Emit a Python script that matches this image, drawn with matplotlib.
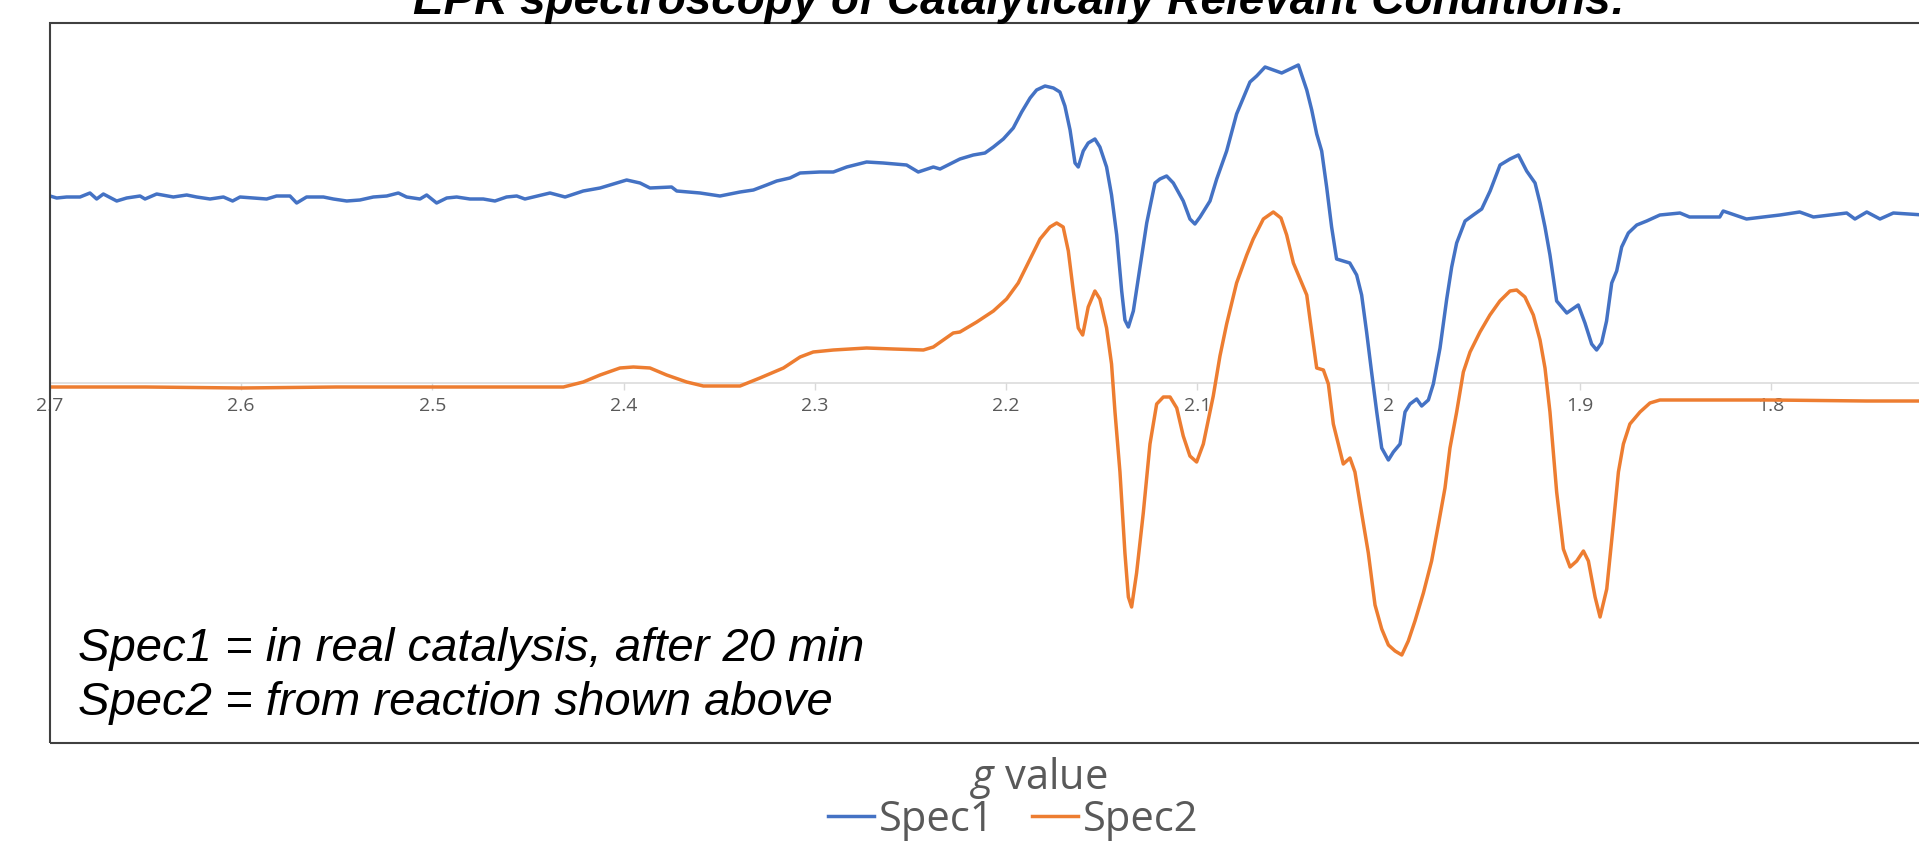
import numpy as np
import matplotlib
matplotlib.use("Agg")
import matplotlib.pyplot as plt
from matplotlib.patches import Rectangle

# g values (x) and signal intensities (arbitrary units)
spec1_g = [2.7000, 2.6965, 2.6913, 2.6843, 2.6791, 2.6756, 2.6721, 2.6651, 2.6599, 2.6529,
           2.6503, 2.6442, 2.6355, 2.6285, 2.6233, 2.6163, 2.6093, 2.6045, 2.6006, 2.5937,
           2.5867, 2.5815, 2.5745, 2.5710, 2.5658, 2.5570, 2.5518, 2.5448, 2.5379, 2.5309,
           2.5239, 2.5178, 2.5135, 2.5065, 2.5030, 2.4978, 2.4925, 2.4873, 2.4804, 2.4734,
           2.4673, 2.4612, 2.4559, 2.4516, 2.4385, 2.4306, 2.4211, 2.4123, 2.4071, 2.3984,
           2.3914, 2.3862, 2.3749, 2.3722, 2.3600, 2.3496, 2.3391, 2.3321, 2.3252, 2.3199,
           2.3130, 2.3077, 2.2973, 2.2903, 2.2833, 2.2729, 2.2642, 2.2520, 2.2459, 2.2380,
           2.2345, 2.2241, 2.2171, 2.2110, 2.2066, 2.2014, 2.1962, 2.1918, 2.1874, 2.1840,
           2.1796, 2.1752, 2.1718, 2.1692, 2.1665, 2.1639, 2.1622, 2.1596, 2.1570, 2.1535,
           2.1509, 2.1474, 2.1448, 2.1421, 2.1395, 2.1378, 2.1360, 2.1334, 2.1299, 2.1264,
           2.1221, 2.1195, 2.1160, 2.1125, 2.1073, 2.1038, 2.1012, 2.0985, 2.0933, 2.0898,
           2.0846, 2.0794, 2.0759, 2.0724, 2.0689, 2.0645, 2.0602, 2.0558, 2.0514, 2.0471,
           2.0427, 2.0401, 2.0375, 2.0349, 2.0323, 2.0297, 2.0271, 2.0236, 2.0202, 2.0166,
           2.0140, 2.0114, 2.0088, 2.0061, 2.0035, 2.0000, 1.9974, 1.9939, 1.9913, 1.9887,
           1.9852, 1.9826, 1.9791, 1.9765, 1.9730, 1.9695, 1.9669, 1.9643, 1.9599, 1.9556,
           1.9512, 1.9468, 1.9416, 1.9364, 1.9320, 1.9277, 1.9233, 1.9207, 1.9181, 1.9155,
           1.9120, 1.9067, 1.9007, 1.8972, 1.8937, 1.8911, 1.8885, 1.8859, 1.8832, 1.8806,
           1.8780, 1.8745, 1.8701, 1.8649, 1.8580, 1.8475, 1.8425, 1.8267, 1.8249, 1.8127,
           1.7952, 1.7849, 1.7777, 1.7603, 1.7560, 1.7498, 1.7429, 1.7359, 1.7200]
spec1_val = [187, 185, 186, 186, 190, 184, 189, 182, 185, 187,
             184, 189, 186, 188, 186, 184, 186, 182, 186, 185,
             184, 187, 187, 180, 186, 186, 184, 182, 183, 186,
             187, 190, 186, 184, 188, 180, 185, 186, 184, 184,
             182, 186, 187, 184, 190, 186, 192, 195, 198, 203,
             200, 195, 196, 192, 190, 187, 191, 193, 198, 202,
             205, 210, 211, 211, 216, 221, 220, 218, 211, 216,
             214, 224, 228, 230, 236, 244, 255, 271, 285, 293,
             297, 295, 291, 277, 253, 220, 216, 232, 240, 244,
             236, 216, 188, 148, 92, 63, 56, 72, 116, 160,
             200, 204, 207, 200, 182, 164, 159, 166, 182, 204,
             232, 269, 285, 301, 307, 316, 313, 310, 314, 318,
             293, 273, 249, 232, 196, 156, 124, 122, 120, 108,
             88, 51, 11, -29, -65, -77, -69, -61, -29, -21,
             -16, -23, -17, -1, 35, 84, 116, 140, 162, 168,
             174, 192, 218, 224, 228, 212, 200, 180, 156, 128,
             82, 70, 78, 60, 39, 33, 40, 62, 100, 112,
             136, 150, 158, 162, 168, 170, 166, 166, 172, 164,
             168, 171, 166, 170, 164, 171, 164, 170, 168]

spec2_g = [2.7000, 2.6500, 2.6000, 2.5500, 2.5000, 2.4500, 2.4315, 2.4211, 2.4123, 2.4019,
           2.3949, 2.3862, 2.3775, 2.3670, 2.3583, 2.3391, 2.3287, 2.3164, 2.3077, 2.3008,
           2.2903, 2.2729, 2.2589, 2.2432, 2.2380, 2.2276, 2.2241, 2.2153, 2.2066, 2.1997,
           2.1936, 2.1874, 2.1822, 2.1770, 2.1735, 2.1701, 2.1674, 2.1648, 2.1622, 2.1599,
           2.1570, 2.1535, 2.1509, 2.1474, 2.1448, 2.1430, 2.1404, 2.1378, 2.1360, 2.1343,
           2.1317, 2.1282, 2.1247, 2.1212, 2.1177, 2.1142, 2.1107, 2.1073, 2.1038, 2.1003,
           2.0968, 2.0916, 2.0881, 2.0846, 2.0794, 2.0741, 2.0707, 2.0654, 2.0602, 2.0562,
           2.0532, 2.0497, 2.0462, 2.0427, 2.0401, 2.0375, 2.0340, 2.0314, 2.0288, 2.0262,
           2.0236, 2.0201, 2.0175, 2.0140, 2.0105, 2.0070, 2.0035, 2.0000, 1.9965, 1.9930,
           1.9896, 1.9861, 1.9817, 1.9774, 1.9739, 1.9704, 1.9678, 1.9643, 1.9608, 1.9573,
           1.9521, 1.9469, 1.9417, 1.9364, 1.9329, 1.9286, 1.9242, 1.9207, 1.9181, 1.9155,
           1.9120, 1.9085, 1.9050, 1.9015, 1.8980, 1.8954, 1.8919, 1.8893, 1.8858, 1.8824,
           1.8797, 1.8771, 1.8737, 1.8684, 1.8632, 1.8580, 1.8000, 1.7500, 1.7200]
spec2_val = [-4, -4, -5, -4, -4, -4, -4, 1, 8, 15,
             16, 15, 8, 1, -3, -3, 5, 15, 26, 31,
             33, 35, 34, 33, 36, 50, 51, 61, 72, 84,
             100, 124, 144, 156, 160, 156, 132, 92, 55, 48,
             76, 92, 84, 55, 19, -29, -89, -170, -214, -224,
             -190, -130, -61, -21, -14, -14, -25, -53, -73, -79,
             -61, -13, 27, 59, 100, 128, 144, 164, 171, 165,
             148, 120, 104, 88, 51, 15, 13, -1, -41, -61,
             -81, -75, -89, -130, -170, -222, -246, -262, -268, -272,
             -258, -238, -210, -178, -142, -105, -65, -29, 11, 31,
             51, 68, 82, 92, 93, 86, 68, 43, 15, -29,
             -109, -166, -184, -178, -168, -178, -214, -234, -206, -142,
             -89, -61, -41, -29, -20, -17, -17, -18, -18]

tick_vals = [2.7, 2.6, 2.5, 2.4, 2.3, 2.2, 2.1, 2.0, 1.9, 1.8]
tick_labels = ["2.7", "2.6", "2.5", "2.4", "2.3", "2.2", "2.1", "2", "1.9", "1.8"]

title = "EPR spectroscopy of Catalytically Relevant Conditions:"
note_lines = ["Spec1 = in real catalysis, after 20 min",
              "Spec2 = from reaction shown above"]

plt.rcParams['mathtext.fontset'] = 'custom'
plt.rcParams['mathtext.it'] = 'Open Sans:italic'
plt.rcParams['mathtext.rm'] = 'Open Sans'

W, H = 1919, 844
fig = plt.figure(figsize=(W / 100, H / 100), dpi=100)
ax = fig.add_axes([50 / W, (H - 743) / H, 1912 / W, 720 / H])

ax.plot(spec1_g, spec1_val, color='#4472C4', lw=2.5, label='Spec1')
ax.plot(spec2_g, spec2_val, color='#ED7D31', lw=2.5, label='Spec2')

ax.set_xlim(2.7, 1.7)
ax.set_ylim(-360, 360)

for s in ['left', 'right', 'top']:
    ax.spines[s].set_visible(False)
ax.spines['bottom'].set_position(('data', 0))
ax.spines['bottom'].set_color('#d9d9d9')
ax.spines['bottom'].set_linewidth(1.1)
ax.spines['bottom'].set_zorder(0.5)

ax.set_xticks(tick_vals)
ax.set_xticklabels(tick_labels, family='Open Sans')
ax.tick_params(axis='x', direction='out', length=5, width=1, color='#d9d9d9',
               labelsize=14, labelcolor='#595959', pad=5)
ax.set_yticks([])

# plot area border
ax.add_patch(Rectangle((0, 0), 1, 1, transform=ax.transAxes, fill=False,
                       ec='#404040', lw=1.5, zorder=10, clip_on=False))

fig.text(1019 / W, 1 - 14 / H, title, ha='center', va='baseline', fontsize=33,
         fontweight='bold', fontstyle='italic', family='Liberation Sans')

fig.text(78 / W, 1 - 661 / H, note_lines[0], ha='left', va='baseline', fontsize=34,
         fontstyle='italic', family='Liberation Sans')
fig.text(78 / W, 1 - 715 / H, note_lines[1], ha='left', va='baseline', fontsize=34,
         fontstyle='italic', family='Liberation Sans')

fig.text(1039 / W, 1 - 789 / H, r'$g$ value', ha='center', va='baseline', fontsize=30,
         color='#595959', family='Open Sans')

leg = fig.legend(loc='center', bbox_to_anchor=(1013 / W, 1 - 820 / H), ncol=2,
                 frameon=False, prop={'family': 'Open Sans', 'size': 30},
                 handlelength=1.1, handletextpad=0.12, columnspacing=0.9, borderpad=0)
for t in leg.get_texts():
    t.set_color('#595959')

fig.savefig('out.png', dpi=100)
